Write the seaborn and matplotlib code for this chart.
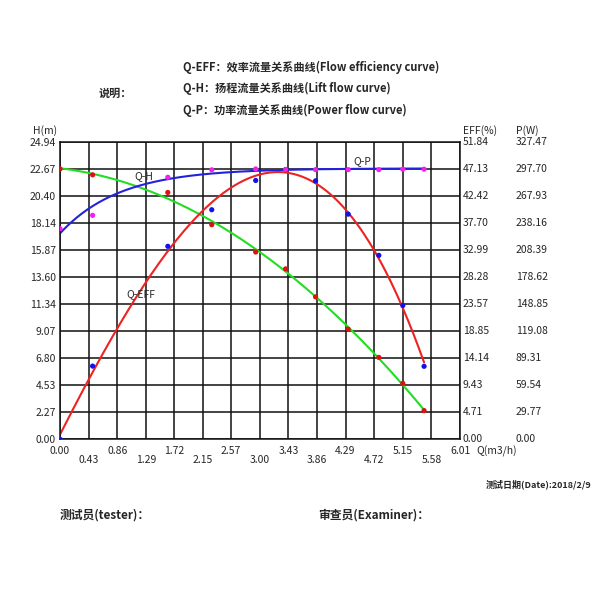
import numpy as np
import matplotlib.pyplot as plt
import seaborn as sns

# flow points, Q (m3/h)
q = [0.00, 0.49, 1.62, 2.28, 2.94, 3.39, 3.84, 4.33, 4.79, 5.15, 5.47]
head = [22.70, 22.20, 20.72, 18.01, 15.72, 14.30, 11.95, 9.24, 6.87, 4.69, 2.40]      # m
eff = [0.0, 12.76, 33.67, 40.05, 45.16, 47.07, 45.10, 39.28, 32.09, 23.34, 12.72]     # %
power = [232.1, 246.8, 288.8, 297.0, 298.0, 297.4, 297.2, 297.2, 297.2, 297.7, 297.7]  # W

x_ticks = [0.00, 0.43, 0.86, 1.29, 1.72, 2.15, 2.57, 3.00, 3.43, 3.86, 4.29, 4.72, 5.15, 5.58, 6.01]
h_ticks = [0.00, 2.27, 4.53, 6.80, 9.07, 11.34, 13.60, 15.87, 18.14, 20.40, 22.67, 24.94]
eff_ticks = ["0.00", "4.71", "9.43", "14.14", "18.85", "23.57", "28.28", "32.99", "37.70", "42.42", "47.13", "51.84"]
p_ticks = ["0.00", "29.77", "59.54", "89.31", "119.08", "148.85", "178.62", "208.39", "238.16", "267.93", "297.70", "327.47"]

sns.set_style("white")
plt.rcParams['font.family'] = ['Noto Sans CJK SC', 'DejaVu Sans']

H_MAX, EFF_MAX, P_MAX = 24.94, 51.84, 327.47
q = np.array(q)
eff_s = np.array(eff) * H_MAX / EFF_MAX
p_s = np.array(power) * H_MAX / P_MAX

fig = plt.figure(figsize=(6, 6), dpi=100)
ax = fig.add_axes([0.1, 0.268, 0.6667, 0.495])

xs = np.linspace(0, 5.47, 200)
# head and efficiency: plain polynomial fits
for ys, deg, c in [(head, 2, '#22dd22'), (eff_s, 3, '#ee2222')]:
    coef = np.polyfit(q, ys, deg)
    sns.lineplot(x=xs, y=np.polyval(coef, xs), color=c, lw=1.5, ax=ax)
# power: saturating fit
feat = lambda x: 1 - np.exp(-np.asarray(x) / 0.9)
coef = np.polyfit(feat(q), p_s, 1)
sns.lineplot(x=xs, y=np.polyval(coef, feat(xs)), color='#2222dd', lw=1.5, ax=ax)

sns.scatterplot(x=q, y=eff_s, color='#1111ee', s=14, edgecolor='none', ax=ax, zorder=5)
sns.scatterplot(x=q, y=head, color='#dd1111', s=14, edgecolor='none', ax=ax, zorder=5)
sns.scatterplot(x=q, y=p_s, color='#ee22ee', s=14, edgecolor='none', ax=ax, zorder=5)

ax.set_xlim(0, 6.01)
ax.set_ylim(0, H_MAX)
ax.set_xticks(x_ticks)
ax.set_yticks(h_ticks)
ax.grid(True, color='#111111', lw=1.1)
ax.set_xticklabels([])
ax.set_yticklabels(["%.2f" % v for v in h_ticks], fontsize=7.5)
for s in ax.spines.values():
    s.set_color('#111111')
    s.set_linewidth(1.1)
ax.tick_params(length=0, pad=3)

for i, v in enumerate(x_ticks):
    ax.text(v, -0.55 if i % 2 == 0 else -1.35, "%.2f" % v, ha='center', va='top', fontsize=7.5)
ax.text(6.25, -0.55, "Q(m3/h)", ha='left', va='top', fontsize=7.5)

for v, e, p in zip(h_ticks, eff_ticks, p_ticks):
    ax.text(6.05, v, e, ha='left', va='center', fontsize=7.5)
    ax.text(6.85, v, p, ha='left', va='center', fontsize=7.5)
ax.text(-0.4, 25.5, "H(m)", fontsize=7.5, va='bottom')
ax.text(6.05, 25.5, "EFF(%)", fontsize=7.5, va='bottom')
ax.text(6.85, 25.5, "P(W)", fontsize=7.5, va='bottom')

ax.text(1.12, 21.87, "Q-H", fontsize=7.5)
ax.text(1.0, 11.95, "Q-EFF", fontsize=7.5)
ax.text(4.41, 23.1, "Q-P", fontsize=7.5)

fig.text(0.305, 0.888, "Q-EFF：效率流量关系曲线(Flow efficiency curve)", fontsize=8, weight='bold', va='center')
fig.text(0.305, 0.852, "Q-H：扬程流量关系曲线(Lift flow curve)", fontsize=8, weight='bold', va='center')
fig.text(0.305, 0.816, "Q-P：功率流量关系曲线(Power flow curve)", fontsize=8, weight='bold', va='center')
fig.text(0.165, 0.845, "说明：", fontsize=8, weight='bold', va='center')
fig.text(0.985, 0.192, "测试日期(Date):2018/2/9", fontsize=6.5, weight='bold', ha='right', va='center')
fig.text(0.1, 0.142, "测试员(tester)：", fontsize=8.5, weight='bold', va='center')
fig.text(0.53, 0.142, "审查员(Examiner)：", fontsize=8.5, weight='bold', va='center')

fig.savefig("out.png", dpi=100)
